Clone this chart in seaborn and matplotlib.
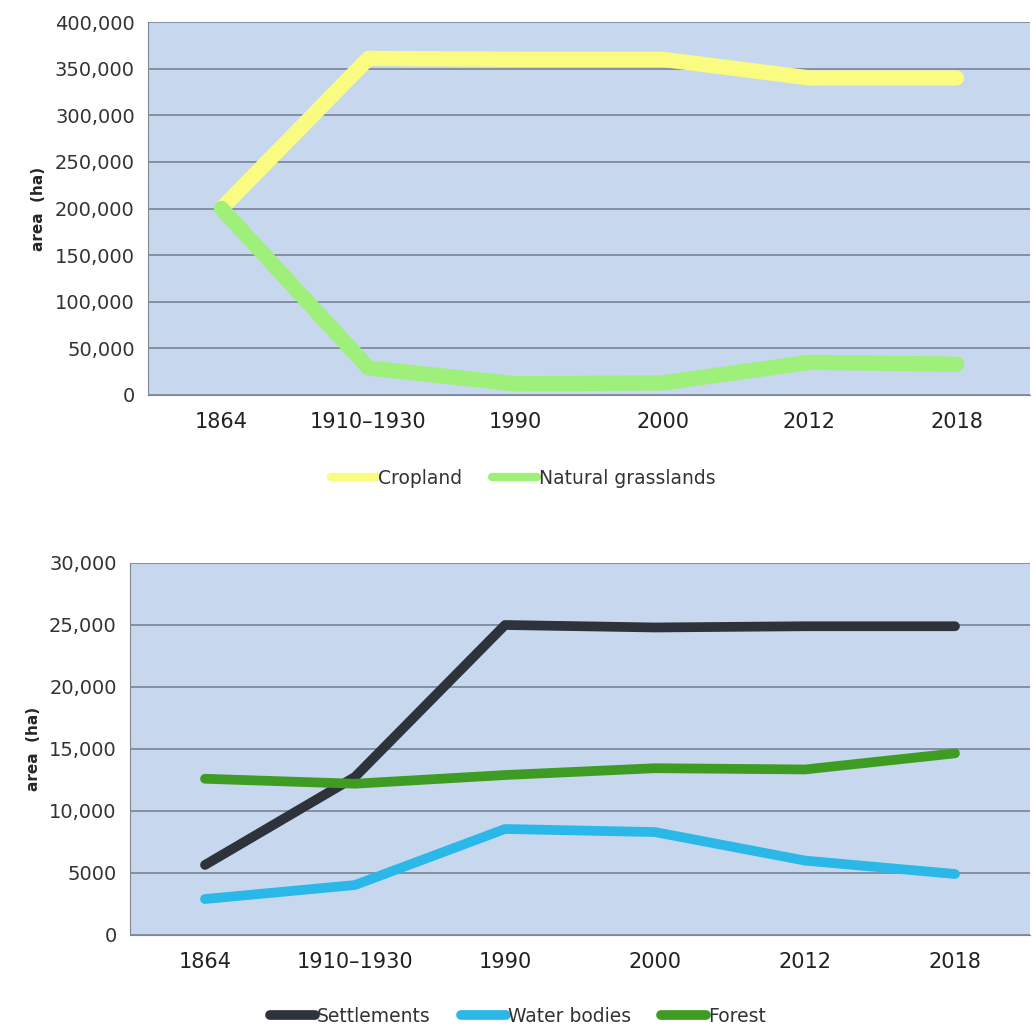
import pandas as pd
import seaborn as sns
import matplotlib.pyplot as plt
import numpy as np
from matplotlib.ticker import FuncFormatter

# categories on the x axis
periods = ['1864', '1910\u20131930', '1990', '2000', '2012', '2018']

# top panel (ha)
cropland = [200000, 361000, 360000, 360000, 340000, 340000]
grasslands = [200000, 29000, 12000, 13000, 35000, 33000]

# bottom panel (ha)
settlements = [5650, 12750, 25000, 24800, 24900, 24900]
water_bodies = [2900, 4030, 8550, 8300, 6000, 4920]
forest = [12600, 12200, 12900, 13450, 13350, 14650]

top_df = pd.DataFrame({
    'pos': list(range(len(periods))) * 2,
    'area': cropland + grasslands,
    'type': ['Cropland'] * 6 + ['Natural grasslands'] * 6,
})
bot_df = pd.DataFrame({
    'pos': list(range(len(periods))) * 3,
    'area': settlements + water_bodies + forest,
    'type': ['Settlements'] * 6 + ['Water bodies'] * 6 + ['Forest'] * 6,
})

top_colors = {'Cropland': '#fafc82', 'Natural grasslands': '#9ef07a'}
bot_colors = {'Settlements': '#2e323a', 'Water bodies': '#2ab8e8', 'Forest': '#3f9c22'}

sns.set_style('white')
plt.rcParams['font.family'] = ['DejaVu Sans']

fig = plt.figure(figsize=(10.36, 10.27), dpi=100)
W, H = 1036, 1027
ax1 = fig.add_axes([148 / W, (H - 395) / H, 882 / W, 373 / H])
ax2 = fig.add_axes([130 / W, (H - 935) / H, 900 / W, 372 / H])


def fmt(v, _):
    return f"{v:,.0f}" if v >= 10000 else f"{v:.0f}"


def style(ax, ymax, step):
    ax.set_facecolor('#c6d7ee')
    ax.set_xlim(-0.5, 5.5)
    ax.set_ylim(0, ymax)
    ax.set_yticks(np.arange(0, ymax + 1, step))
    ax.yaxis.set_major_formatter(FuncFormatter(fmt))
    ax.set_xticks(np.arange(-0.5, 6, 1))
    ax.set_xticklabels([''] * 7)
    ax.set_xticks(range(len(periods)), minor=True)
    ax.set_xticklabels(periods, minor=True, fontsize=15, color='#222222')
    ax.tick_params(axis='x', which='minor', length=0, pad=12)
    ax.tick_params(axis='x', which='major', length=8, color='#7f8794', direction='out')
    ax.tick_params(axis='y', length=6, color='#7f8794', labelsize=14,
                   labelcolor='#333333', direction='out')
    ax.grid(axis='y', color='#7a8594', linewidth=1.2)
    ax.set_axisbelow(True)
    for s in ['top', 'right']:
        ax.spines[s].set_visible(False)
    for s in ['left', 'bottom']:
        ax.spines[s].set_color('#7f8794')
    ax.set_xlabel('')
    ax.set_ylabel('area  (ha)', fontsize=11, fontweight='bold', labelpad=6)


sns.lineplot(data=top_df, x='pos', y='area', hue='type', palette=top_colors,
             linewidth=11, ax=ax1, legend=False, solid_capstyle='round',
             solid_joinstyle='round')
style(ax1, 400000, 50000)

sns.lineplot(data=bot_df, x='pos', y='area', hue='type', palette=bot_colors,
             linewidth=7, ax=ax2, legend=False, solid_capstyle='round',
             solid_joinstyle='round')
style(ax2, 30000, 5000)

h1 = [plt.Line2D([], [], color=c, linewidth=6) for c in top_colors.values()]
fig.legend(h1, list(top_colors.keys()), loc='center', bbox_to_anchor=(0.505, 1 - 478 / H),
           ncol=2, frameon=False, handlelength=2.4, handletextpad=0.1,
           columnspacing=1.6, fontsize=13.5, labelcolor='#333333')

h2 = [plt.Line2D([], [], color=c, linewidth=7, solid_capstyle='round')
      for c in bot_colors.values()]
fig.legend(h2, list(bot_colors.keys()), loc='center', bbox_to_anchor=(0.5, 1 - 1016 / H),
           ncol=3, frameon=False, handlelength=2.4, handletextpad=0.1,
           columnspacing=1.6, fontsize=13.5, labelcolor='#333333')

fig.savefig('out.png', dpi=100)
